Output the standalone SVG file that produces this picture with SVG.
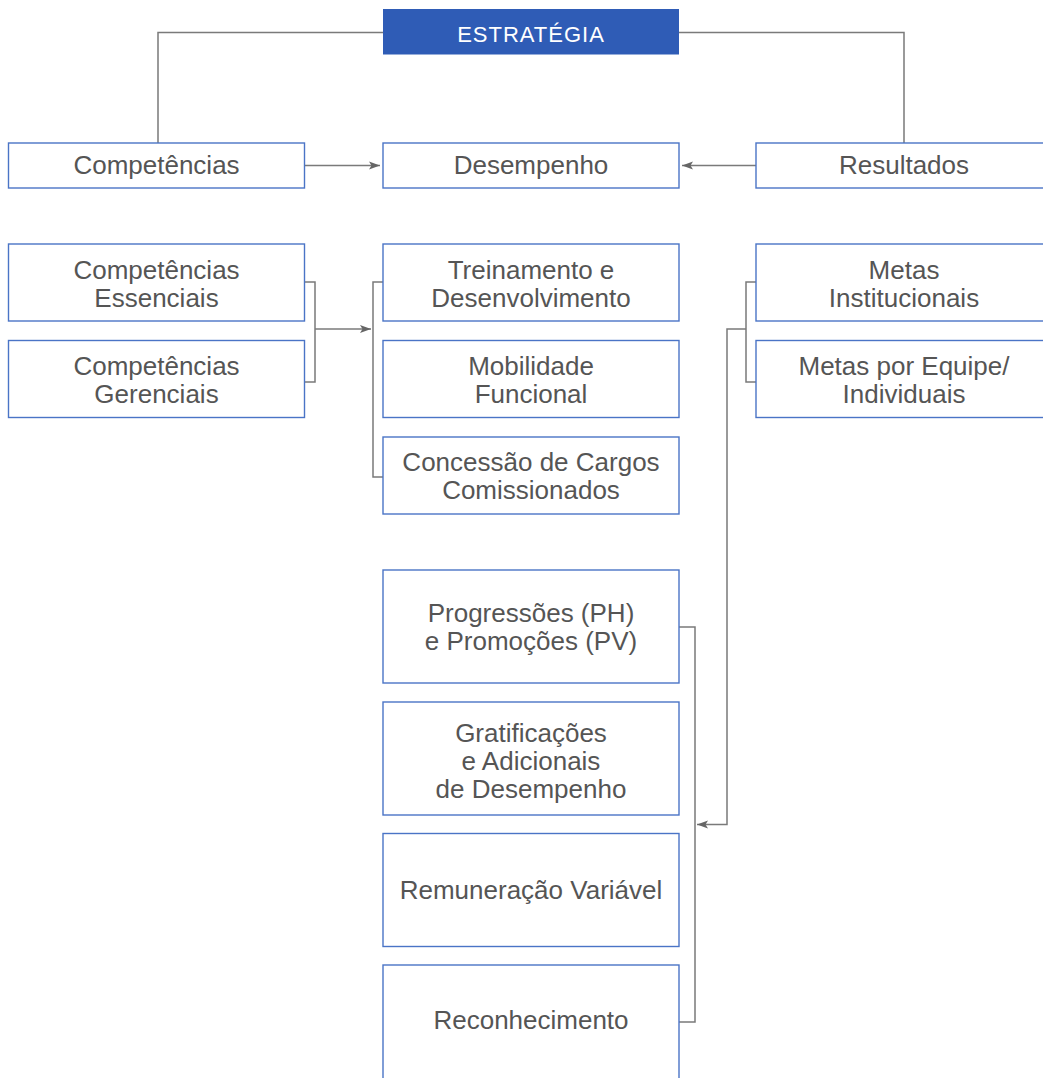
<svg xmlns="http://www.w3.org/2000/svg" width="1043" height="1078" viewBox="0 0 1043 1078">
  <style>
    .box { fill: #ffffff; stroke: #4a74c6; stroke-width: 1.4; }
    .head { fill: #2f5cb6; }
    .lbl { font-family: "Liberation Sans", Arial, sans-serif; font-size: 26px; fill: #555555; text-anchor: middle; }
    .hlbl { font-family: "Liberation Sans", Arial, sans-serif; font-size: 22px; fill: #ffffff; text-anchor: middle; letter-spacing: 1px; }
    .wire { fill: none; stroke: #7a7a7a; stroke-width: 1.5; }
  </style>
  <defs>
    <marker id="arrow" markerUnits="userSpaceOnUse" markerWidth="12" markerHeight="10" refX="11" refY="5" orient="auto">
      <path d="M0,1 L11,5 L0,9 L2.5,5 z" fill="#666666"/>
    </marker>
  </defs>
  <rect width="1043" height="1078" fill="#ffffff"/>

  <g id="connectors">
    <!-- strategy feeds both side columns -->
    <polyline class="wire" points="158,143 158,32.5 383,32.5"/>
    <polyline class="wire" points="679,32.5 904,32.5 904,143"/>
    <!-- top row into Desempenho -->
    <line class="wire" x1="305" y1="165.5" x2="380" y2="165.5" marker-end="url(#arrow)"/>
    <line class="wire" x1="756" y1="165.5" x2="682" y2="165.5" marker-end="url(#arrow)"/>
    <!-- competency bracket -->
    <polyline class="wire" points="305,282 315,282 315,382 305,382"/>
    <line class="wire" x1="315" y1="329" x2="371" y2="329" marker-end="url(#arrow)"/>
    <!-- development bracket -->
    <polyline class="wire" points="383,282 373,282 373,477 383,477"/>
    <!-- goals bracket and feed to rewards -->
    <polyline class="wire" points="756,282 746,282 746,382 756,382"/>
    <polyline class="wire" points="746,329 727,329 727,824.5 697,824.5" marker-end="url(#arrow)"/>
    <!-- rewards bracket -->
    <polyline class="wire" points="679,627 695,627 695,1022 679,1022"/>
  </g>

  <g id="estrategia">
    <rect class="head" x="383" y="9" width="296" height="45.5"/>
    <text class="hlbl" x="531" y="41.5">ESTRATÉGIA</text>
  </g>

  <g id="competencias">
    <rect class="box" x="8.5" y="143" width="296" height="45"/>
    <text class="lbl" x="156.5" y="174">Competências</text>
  </g>
  <g id="desempenho">
    <rect class="box" x="383" y="143" width="296" height="45"/>
    <text class="lbl" x="531" y="174">Desempenho</text>
  </g>
  <g id="resultados">
    <rect class="box" x="756" y="143" width="296" height="45"/>
    <text class="lbl" x="904" y="174">Resultados</text>
  </g>

  <g id="comp-essenciais">
    <rect class="box" x="8.5" y="244" width="296" height="77"/>
    <text class="lbl" x="156.5" y="279">Competências</text>
    <text class="lbl" x="156.5" y="307">Essenciais</text>
  </g>
  <g id="comp-gerenciais">
    <rect class="box" x="8.5" y="340.5" width="296" height="77"/>
    <text class="lbl" x="156.5" y="375">Competências</text>
    <text class="lbl" x="156.5" y="403">Gerenciais</text>
  </g>

  <g id="treinamento">
    <rect class="box" x="383" y="244" width="296" height="77"/>
    <text class="lbl" x="531" y="279">Treinamento e</text>
    <text class="lbl" x="531" y="307">Desenvolvimento</text>
  </g>
  <g id="mobilidade">
    <rect class="box" x="383" y="340.5" width="296" height="77"/>
    <text class="lbl" x="531" y="375">Mobilidade</text>
    <text class="lbl" x="531" y="403">Funcional</text>
  </g>
  <g id="cargos">
    <rect class="box" x="383" y="437" width="296" height="77"/>
    <text class="lbl" x="531" y="471">Concessão de Cargos</text>
    <text class="lbl" x="531" y="499">Comissionados</text>
  </g>

  <g id="metas-institucionais">
    <rect class="box" x="756" y="244" width="296" height="77"/>
    <text class="lbl" x="904" y="279">Metas</text>
    <text class="lbl" x="904" y="307">Institucionais</text>
  </g>
  <g id="metas-equipe">
    <rect class="box" x="756" y="340.5" width="296" height="77"/>
    <text class="lbl" x="904" y="375">Metas por Equipe/</text>
    <text class="lbl" x="904" y="403">Individuais</text>
  </g>

  <g id="progressoes">
    <rect class="box" x="383" y="570" width="296" height="113"/>
    <text class="lbl" x="531" y="622">Progressões (PH)</text>
    <text class="lbl" x="531" y="650">e Promoções (PV)</text>
  </g>
  <g id="gratificacoes">
    <rect class="box" x="383" y="702" width="296" height="113"/>
    <text class="lbl" x="531" y="742">Gratificações</text>
    <text class="lbl" x="531" y="770">e Adicionais</text>
    <text class="lbl" x="531" y="798">de Desempenho</text>
  </g>
  <g id="remuneracao">
    <rect class="box" x="383" y="833.5" width="296" height="113"/>
    <text class="lbl" x="531" y="899">Remuneração Variável</text>
  </g>
  <g id="reconhecimento">
    <rect class="box" x="383" y="965" width="296" height="114"/>
    <text class="lbl" x="531" y="1029">Reconhecimento</text>
  </g>
</svg>
